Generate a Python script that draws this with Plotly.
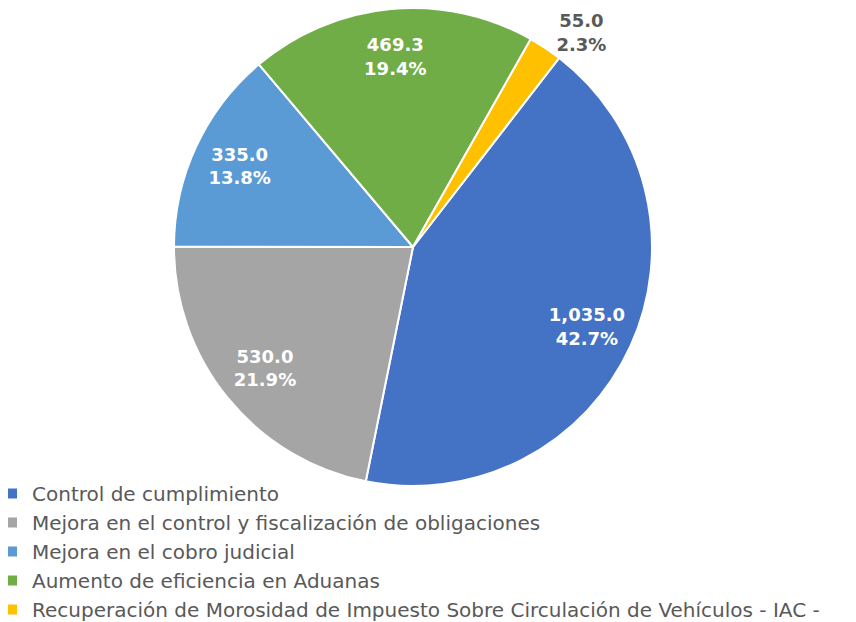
import plotly.graph_objects as go

categories = [
    "Control de cumplimiento",
    "Mejora en el control y fiscalización de obligaciones",
    "Mejora en el cobro judicial",
    "Aumento de eficiencia en Aduanas",
    "Recuperación de Morosidad de Impuesto Sobre Circulación de Vehículos - IAC -",
]
values = [1035.0, 530.0, 335.0, 469.3, 55.0]
colors = ["#4472C4", "#A5A5A5", "#5B9BD5", "#70AD47", "#FFC000"]
outside_flags = [False, False, False, False, True]

W, H = 856, 622
OFF = 8  # page body margin
cx, cy, r = 413 - OFF, 247 - OFF, 239
domain = dict(x=[(cx - r) / W, (cx + r) / W],
              y=[max(0, 1 - (cy + r) / H), min(1, 1 - (cy - r) / H)])
tmpl = "%{value:,.1f}<br>%{percent:.1%}"

fig = go.Figure()
# main pie (slices + outside label for the small slice)
fig.add_trace(go.Pie(
    labels=categories,
    values=values,
    sort=False,
    direction="clockwise",
    rotation=37.7,
    marker=dict(colors=colors, line=dict(color="white", width=2)),
    texttemplate=[tmpl if o else "" for o in outside_flags],
    textposition=["outside" if o else "none" for o in outside_flags],
    outsidetextfont=dict(family="DejaVu Sans", size=18, color="#595959", weight="bold"),
    hoverinfo="label+value+percent",
    domain=domain,
    showlegend=True,
))
# transparent ring overlay used only to place the inside labels further out
fig.add_trace(go.Pie(
    labels=categories,
    values=values,
    sort=False,
    direction="clockwise",
    rotation=37.7,
    hole=0.6,
    marker=dict(colors=["rgba(0,0,0,0)"] * len(values), line=dict(width=0)),
    texttemplate=["" if o else tmpl for o in outside_flags],
    textposition=["none" if o else "inside" for o in outside_flags],
    insidetextorientation="horizontal",
    insidetextfont=dict(family="DejaVu Sans", size=18, color="white", weight="bold"),
    hoverinfo="skip",
    domain=domain,
    showlegend=False,
))

fig.update_layout(
    width=W, height=H,
    margin=dict(l=0, r=0, t=0, b=0, autoexpand=False),
    paper_bgcolor="white",
    plot_bgcolor="white",
    showlegend=True,
    legend=dict(
        x=-16 / W, y=1 - 466 / H, xanchor="left", yanchor="top",
        orientation="v",
        font=dict(family="DejaVu Sans", size=20, color="#595959"),
        itemwidth=30,
        bgcolor="rgba(0,0,0,0)",
    ),
)

fig.write_html("out.html")
